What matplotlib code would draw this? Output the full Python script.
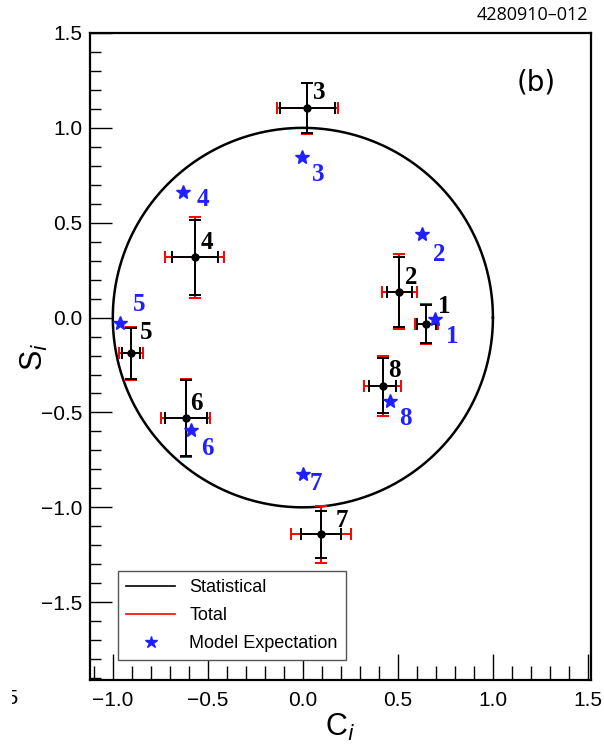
import numpy as np
import matplotlib
matplotlib.use('Agg')
import matplotlib.pyplot as plt
from matplotlib.lines import Line2D
from matplotlib.patches import Rectangle
from matplotlib.ticker import MultipleLocator

# measured points
names = ['1', '2', '3', '4', '5', '6', '7', '8']
c_val = [0.649, 0.507, 0.023, -0.568, -0.905, -0.616, 0.095, 0.419]
s_val = [-0.033, 0.137, 1.104, 0.317, -0.188, -0.528, -1.142, -0.358]
c_stat = [0.050, 0.066, 0.145, 0.120, 0.048, 0.110, 0.105, 0.070]
s_stat = [0.100, 0.184, 0.130, 0.200, 0.135, 0.200, 0.125, 0.145]
c_tot = [0.060, 0.092, 0.160, 0.155, 0.063, 0.128, 0.160, 0.098]
s_tot = [0.105, 0.197, 0.135, 0.215, 0.140, 0.205, 0.150, 0.158]

# model expectation
c_model = [0.695, 0.625, -0.004, -0.630, -0.960, -0.590, 0.002, 0.460]
s_model = [-0.007, 0.440, 0.844, 0.660, -0.030, -0.595, -0.823, -0.442]

# label offsets in pixels
lab_off = [(18, 17), (12, 14), (12, 16), (12, 15), (15, 21), (11, 14), (21, 14), (12, 15)]
mod_off = [(17, -18), (18, -20), (16, -17), (20, -7), (19, 19), (17, -18), (13, -10), (15, -17)]

fig = plt.figure(figsize=(6.04, 7.52), dpi=100)
ax = fig.add_axes([90/604, 72/752, 501/604, 647/752])

# unit circle
t = np.linspace(0, 2*np.pi, 400)
ax.plot(np.cos(t), np.sin(t), color='black', lw=1.8, zorder=1)

# total errors (red) then statistical (black)
ax.errorbar(c_val, s_val, xerr=c_tot, yerr=s_tot, fmt='none', ecolor='red',
            elinewidth=1.4, capsize=4, capthick=1.4, zorder=2)
ax.errorbar(c_val, s_val, xerr=c_stat, yerr=s_stat, fmt='o', color='black',
            ms=5, elinewidth=1.4, capsize=4, capthick=1.4, zorder=3)
ax.plot(c_model, s_model, linestyle='none', marker='*', color='#1f1fff', ms=10, zorder=4)

for i in range(len(names)):
    ax.annotate(names[i], (c_val[i], s_val[i]), xytext=lab_off[i], textcoords='offset pixels',
                ha='center', va='center', fontsize=18, fontweight='bold',
                family='Liberation Serif', color='black', zorder=5)
    ax.annotate(names[i], (c_model[i], s_model[i]), xytext=mod_off[i], textcoords='offset pixels',
                ha='center', va='center', fontsize=18, fontweight='bold',
                family='Liberation Serif', color='#1f1fff', zorder=5)

ax.set_xlim(-1.12, 1.516)
ax.set_ylim(-1.91, 1.5)
ax.xaxis.set_major_locator(MultipleLocator(0.5))
ax.xaxis.set_minor_locator(MultipleLocator(0.1))
ax.yaxis.set_major_locator(MultipleLocator(0.5))
ax.yaxis.set_minor_locator(MultipleLocator(0.1))
fmt = plt.FuncFormatter(lambda v, p: ('%.1f' % v).replace('-', '\u2212'))
ax.xaxis.set_major_formatter(fmt)
ax.yaxis.set_major_formatter(fmt)
ax.tick_params(axis='both', which='both', direction='in', top=False, right=False,
               labelsize=15, width=1)
ax.tick_params(axis='x', which='major', length=19, pad=8)
ax.tick_params(axis='x', which='minor', length=10)
ax.tick_params(axis='y', which='major', length=16, pad=5.5)
ax.tick_params(axis='y', which='minor', length=8)
for lab in ax.get_xticklabels() + ax.get_yticklabels():
    lab.set_family('Liberation Sans')
for sp in ax.spines.values():
    sp.set_linewidth(1.6)

# cut-off remnant of the -1.5 label at the left edge (only the "5" shows)
fig.text(18/604, 1 - 698/752, '\u22121.5', ha='right', va='center', fontsize=15,
         family='Liberation Sans')
fig.patches.append(Rectangle((0, 1 - 715/752), 11.5/604, 35/752, transform=fig.transFigure,
                             facecolor='white', edgecolor='none', zorder=10))

ax.set_xlabel('C$_i$', fontsize=22, family='Liberation Sans')
ax.xaxis.set_label_coords((340 - 90)/501, -(712 - 680)/647)
ax.set_ylabel('S$_i$', fontsize=22, family='Liberation Sans')
ax.yaxis.set_label_coords(-(90 - 50)/501, (680 - 357)/647)
ax.text(0.93, 1 - (82 - 33)/647, '(b)', transform=ax.transAxes, ha='right', va='center',
        fontsize=20, family='DejaVu Sans')
fig.text(588/604, 1 - 15/752, '4280910\u2013012', ha='right', va='center', fontsize=13,
         family='Open Sans')

handles = [Line2D([], [], color='black', lw=1.2),
           Line2D([], [], color='red', lw=1.2),
           Line2D([], [], color='#1f1fff', marker='*', linestyle='none', ms=9)]
leg = ax.legend(handles, ['Statistical', 'Total', 'Model Expectation'],
                loc='lower left', bbox_to_anchor=(28/501, 20/647), borderaxespad=0,
                fancybox=False, edgecolor='#555555', framealpha=1, handlelength=2.7,
                borderpad=0.45, labelspacing=0.6, prop={'family': 'Liberation Sans', 'size': 13})
leg.get_frame().set_linewidth(1.0)

fig.savefig('out.png', dpi=100)
